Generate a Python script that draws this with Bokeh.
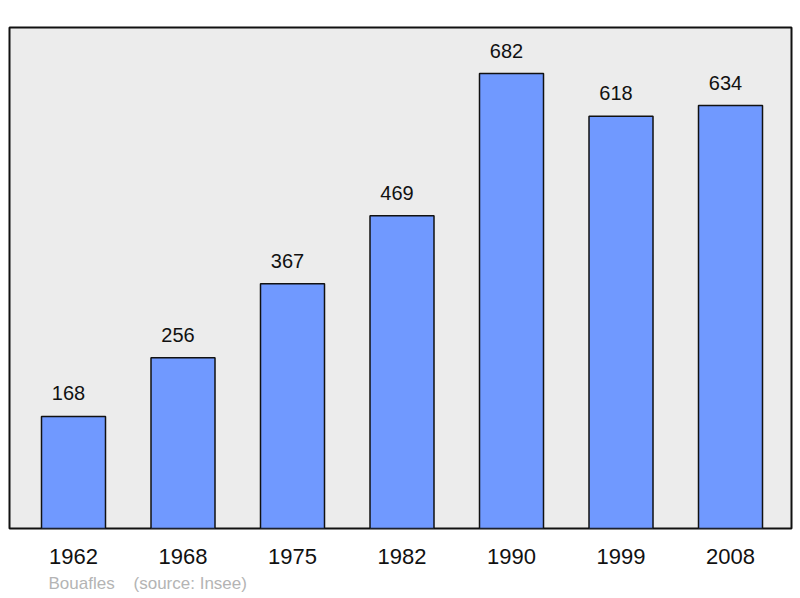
from bokeh.plotting import figure
from bokeh.models import FixedTicker, Range1d, Title, ColumnDataSource
from bokeh.core.properties import value
from bokeh.embed import file_html
from bokeh.resources import INLINE

years = ["1962", "1968", "1975", "1982", "1990", "1999", "2008"]
population = [168, 256, 367, 469, 682, 618, 634]
place = "Bouafles"
source_note = "(source: Insee)"

idx = list(range(len(years)))
src = ColumnDataSource(dict(x=idx, top=population, label=[str(v) for v in population]))

FONT = "Liberation Sans"

p = figure(width=800, height=598, frame_width=782, frame_height=501,
           x_range=Range1d(-0.5845, 6.557), y_range=Range1d(0, 751),
           y_axis_location=None, toolbar_location=None, title=None,
           output_backend="svg", min_border_left=9, min_border_right=9,
           min_border_top=27, min_border_bottom=10)

p.border_fill_color = "white"
p.background_fill_color = "#ececec"
p.outline_line_color = "#111111"
p.outline_line_width = 2
p.grid.visible = False

p.vbar(x="x", top="top", width=0.5845, source=src, fill_color="#7099ff",
       line_color="#111111", line_width=1.5)

p.text(x="x", y="top", text="label", source=src, y_offset=-23, x_offset=-5,
       text_align="center", text_baseline="alphabetic",
       text_font=value(FONT), text_font_size="20px", text_color="#111111")

ax = p.xaxis[0]
ax.ticker = FixedTicker(ticks=idx)
ax.major_label_overrides = {i: y for i, y in zip(idx, years)}
ax.axis_line_color = None
ax.major_tick_line_color = None
ax.minor_tick_line_color = None
ax.major_label_text_font = FONT
ax.major_label_text_font_size = "22px"
ax.major_label_text_color = "#111111"
ax.major_label_standoff = 14

footer = Title(text=place + "\u00a0\u00a0\u00a0\u00a0" + source_note, align="left",
               offset=39, text_font=FONT, text_font_size="17px",
               text_font_style="normal", text_color="#b4b4b4", standoff=10)
p.add_layout(footer, "below")

open("out.html", "w").write(file_html(p, INLINE))
